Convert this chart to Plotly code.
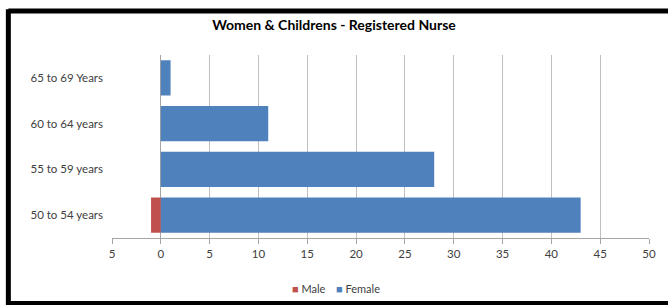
import plotly.graph_objects as go

age_groups = ["50 to 54 years", "55 to 59 years", "60 to 64 years", "65 to 69 Years"]
male = [-1, 0, 0, 0]
female = [43, 28, 11, 1]
tick_vals = [-5, 0, 5, 10, 15, 20, 25, 30, 35, 40, 45, 50]
tick_text = [str(abs(v)) for v in tick_vals]

MALE_COLOR = "#C0504D"
FEMALE_COLOR = "#4F81BD"
FONT = "Lato, 'Open Sans', sans-serif"

fig = go.Figure()
fig.add_trace(go.Bar(y=age_groups, x=male, orientation="h", name="Male",
                     marker=dict(color=MALE_COLOR, line=dict(width=0)), width=0.77))
fig.add_trace(go.Bar(y=age_groups, x=female, orientation="h", name="Female",
                     marker=dict(color=FEMALE_COLOR, line=dict(width=0)), width=0.77))

legend_y = (238 - 288) / 183
bx0, bx1, by0, by1 = -0.193, 1.3, -0.358, 1.240
border = dict(color="black", width=5)
fig.update_layout(
    width=668, height=305,
    margin=dict(l=112, r=14, t=55, b=67),
    barmode="overlay",
    paper_bgcolor="white", plot_bgcolor="white",
    font=dict(family=FONT, size=11, color="#404040"),
    title=dict(text="<b>Women & Childrens - Registered Nurse</b>", x=0.5, xref="container",
               xanchor="center", y=1 - 25/305, yanchor="middle",
               font=dict(family=FONT, size=14, color="#000000")),
    showlegend=False,
    xaxis=dict(range=[-5, 50], tickvals=tick_vals, ticktext=tick_text,
               showgrid=True, gridcolor="#BFBFBF", gridwidth=1,
               zeroline=True, zerolinecolor="#A6A6A6", zerolinewidth=1,
               showline=True, linecolor="#A6A6A6", linewidth=1,
               ticks="outside", ticklen=5, tickcolor="#A6A6A6",
               tickfont=dict(size=11.5), fixedrange=True),
    yaxis=dict(categoryorder="array", categoryarray=age_groups,
               showgrid=False, zeroline=False, showline=False,
               ticks="", ticklabelstandoff=8, tickfont=dict(size=11.5),
               fixedrange=True),
    shapes=[
        dict(type="line", xref="paper", yref="paper", x0=bx0, x1=bx1, y0=by1, y1=by1, line=border),
        dict(type="line", xref="paper", yref="paper", x0=bx0, x1=bx1, y0=by0, y1=by0, line=border),
        dict(type="line", xref="paper", yref="paper", x0=bx0, x1=bx0, y0=by0 - 0.01, y1=by1 + 0.01, line=border),
    ],
    annotations=[
        dict(text=f"<span style='color:{MALE_COLOR}'>■</span> Male", xref="paper", yref="paper",
             x=(292 - 112) / 542, y=legend_y, xanchor="left", yanchor="middle",
             showarrow=False, font=dict(size=11, color="#404040")),
        dict(text=f"<span style='color:{FEMALE_COLOR}'>■</span> Female", xref="paper", yref="paper",
             x=(336 - 112) / 542, y=legend_y, xanchor="left", yanchor="middle",
             showarrow=False, font=dict(size=11, color="#404040")),
    ],
)

fig.write_html("out.html", config={"displayModeBar": False},
               post_script="document.body.style.margin='0';"
                           "document.documentElement.style.overflow='hidden';"
                           "document.body.style.overflow='hidden';")
